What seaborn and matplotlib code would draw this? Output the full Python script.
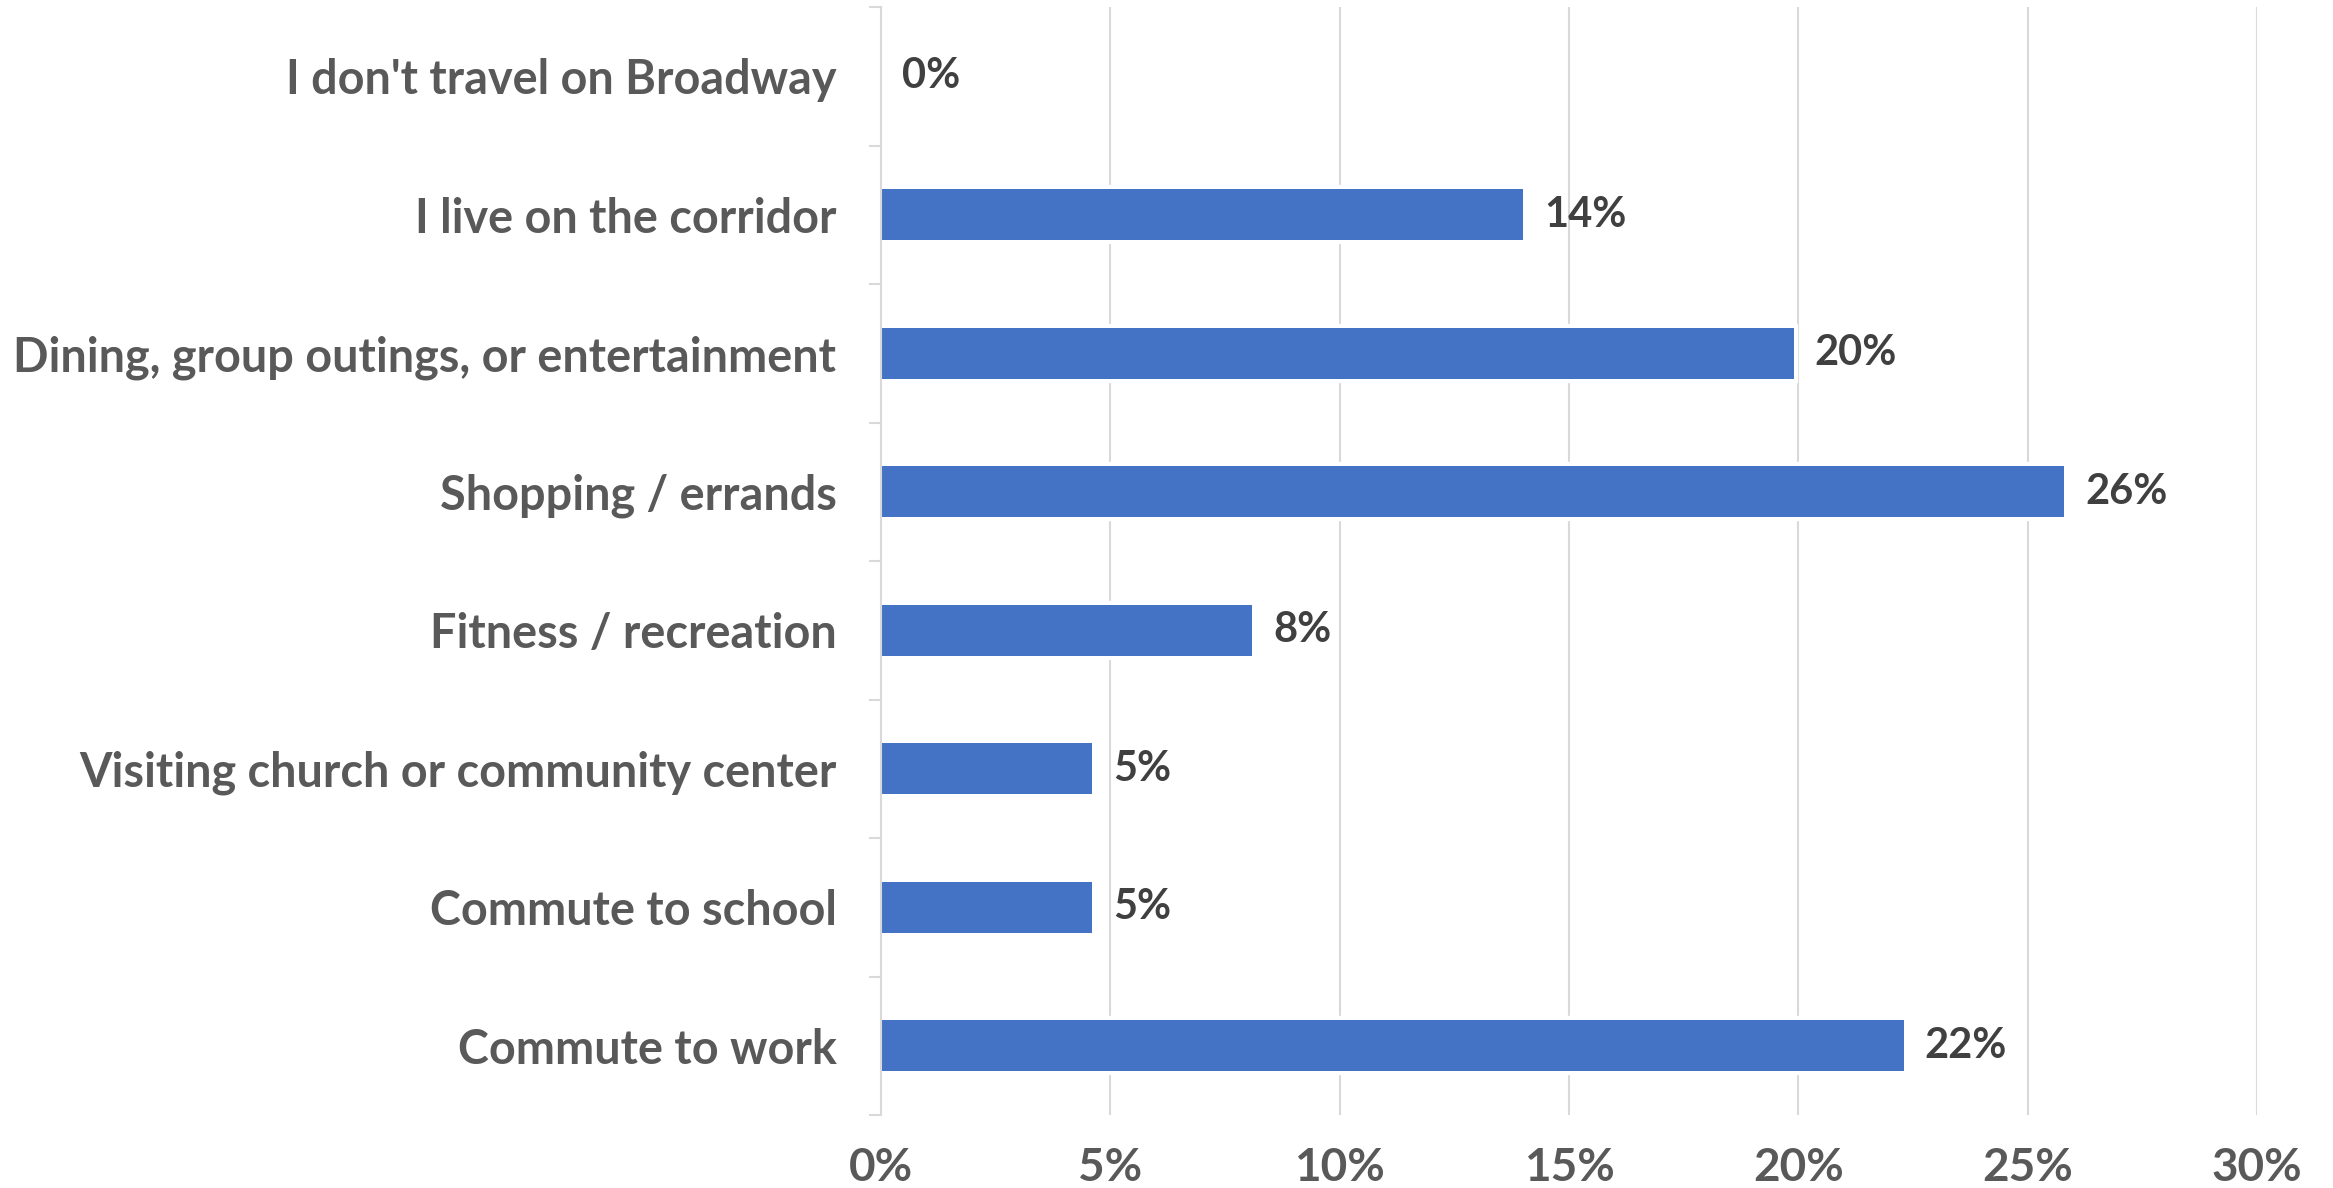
import matplotlib
matplotlib.use("Agg")
import matplotlib.pyplot as plt
import seaborn as sns
import pandas as pd
import numpy as np

# Trip purposes along the Broadway corridor (share of respondents, %)
categories = [
    "I don't travel on Broadway",
    "I live on the corridor",
    "Dining, group outings, or entertainment",
    "Shopping / errands",
    "Fitness / recreation",
    "Visiting church or community center",
    "Commute to school",
    "Commute to work",
]
shares = [0.0, 14.0, 19.9, 25.8, 8.1, 4.6, 4.6, 22.3]
x_ticks = [0, 5, 10, 15, 20, 25, 30]
x_tick_labels = ["0%", "5%", "10%", "15%", "20%", "25%", "30%"]

BAR_BLUE = "#4472C4"
GRID_GREY = "#D9D9D9"
LABEL_GREY = "#595959"
VALUE_GREY = "#404040"

sns.set_theme(style="white")
plt.rcParams["font.family"] = ["Lato", "DejaVu Sans"]

df = pd.DataFrame({"purpose": categories, "share": shares})

fig = plt.figure(figsize=(23.33, 11.88), dpi=100)
ax = fig.add_axes([0.3776, 0.0614, 0.5898, 0.9327])

# white halo behind each bar so the gridlines stop short of the bars
sns.barplot(data=df, x="share", y="purpose", color="white", edgecolor="white",
            linewidth=6, width=0.37, saturation=1, errorbar=None, ax=ax)
sns.barplot(data=df, x="share", y="purpose", color=BAR_BLUE, linewidth=0,
            width=0.37, saturation=1, errorbar=None, ax=ax)

ax.bar_label(ax.containers[-1], labels=[f"{v:.0f}%" for v in shares],
             padding=15, fontsize=30, fontweight="bold", color=VALUE_GREY)

ax.set_xlim(0, 30)
ax.set_xticks(x_ticks)
ax.set_xticklabels(x_tick_labels)
ax.set_xlabel("")
ax.set_ylabel("")
ax.set_ylim(len(categories) - 0.5, -0.5)

ax.set_axisbelow(True)
ax.grid(axis="x", color=GRID_GREY, linewidth=1.5)
ax.grid(axis="y", visible=False)

for side in ("top", "right", "bottom"):
    ax.spines[side].set_visible(False)
ax.spines["left"].set_color(GRID_GREY)
ax.spines["left"].set_linewidth(1.5)
ax.spines["left"].set_zorder(3)

# category separators as short outward ticks on the left axis
ax.set_yticks(np.arange(-0.5, len(categories), 1.0), minor=True)
ax.tick_params(axis="y", which="minor", left=True, length=9, width=1.5,
               color=GRID_GREY, direction="out")
ax.tick_params(axis="y", which="major", length=0, pad=32,
               labelsize=33.7, labelcolor=LABEL_GREY)
ax.tick_params(axis="x", which="major", length=0, pad=23,
               labelsize=33, labelcolor=LABEL_GREY)
for lab in ax.get_yticklabels() + ax.get_xticklabels():
    lab.set_fontweight("bold")

fig.savefig("out.png", dpi=100, facecolor="white")
